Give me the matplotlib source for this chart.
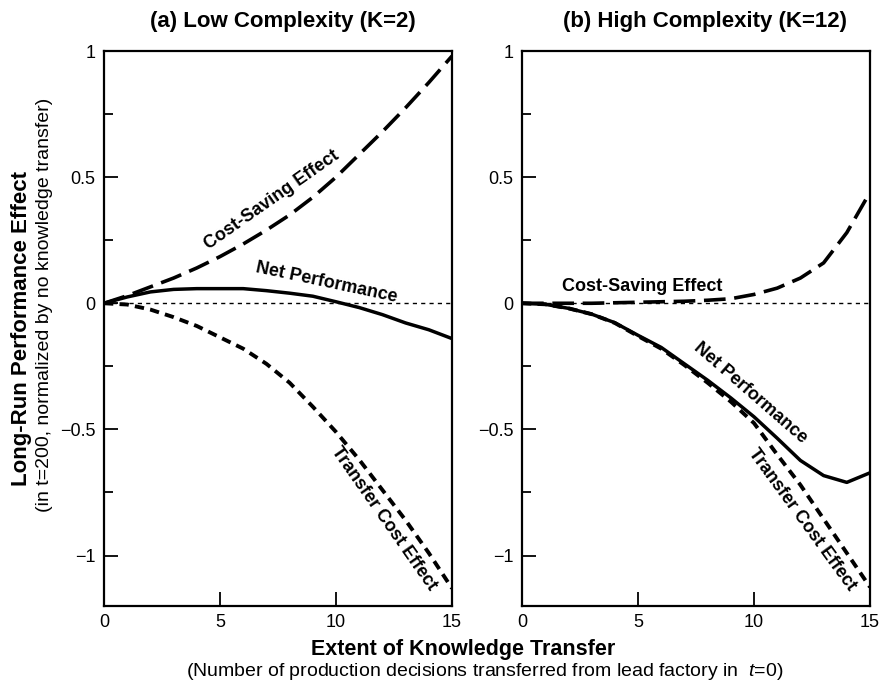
import matplotlib
matplotlib.use("Agg")
import matplotlib.pyplot as plt

plt.rcParams['font.family'] = ['Liberation Sans', 'DejaVu Sans']
plt.rcParams['mathtext.fontset'] = 'custom'
plt.rcParams['mathtext.rm'] = 'Liberation Sans'
plt.rcParams['mathtext.it'] = 'Liberation Sans:italic'

# extent of knowledge transfer (number of decisions)
transfer = list(range(16))

# (a) low complexity, K=2
low_cost_saving = [0, 0.03, 0.065, 0.10, 0.14, 0.185, 0.235, 0.29, 0.35, 0.42, 0.50,
                   0.59, 0.68, 0.775, 0.875, 0.98]
low_net = [0, 0.025, 0.045, 0.055, 0.058, 0.058, 0.058, 0.05, 0.04, 0.028, 0.006,
           -0.017, -0.045, -0.078, -0.105, -0.14]
low_transfer_cost = [0, -0.005, -0.025, -0.055, -0.09, -0.135, -0.18, -0.24, -0.315,
                     -0.41, -0.51, -0.62, -0.74, -0.86, -0.99, -1.13]

# (b) high complexity, K=12
high_cost_saving = [0, 0, 0, 0, 0.002, 0.004, 0.006, 0.008, 0.012, 0.018, 0.035,
                    0.06, 0.10, 0.16, 0.28, 0.44]
high_net = [0, -0.004, -0.02, -0.043, -0.077, -0.127, -0.175, -0.24, -0.305, -0.375,
            -0.45, -0.535, -0.623, -0.683, -0.71, -0.672]
high_transfer_cost = [0, -0.004, -0.02, -0.043, -0.078, -0.13, -0.18, -0.245, -0.315,
                      -0.39, -0.475, -0.6, -0.72, -0.855, -0.99, -1.125]

W, H = 881, 684
fig = plt.figure(figsize=(W / 100, H / 100), dpi=100)
ax1 = fig.add_axes([104 / W, 1 - 606 / H, 348 / W, 555 / H])
ax2 = fig.add_axes([522 / W, 1 - 606 / H, 348 / W, 555 / H])


def draw_panel(ax, cs, net, tc):
    ax.plot([0, 15], [0, 0], color='black', lw=1.0, linestyle=(0, (3, 3)))
    ax.plot(transfer, cs, color='black', lw=2.6, dashes=(6, 2.4), solid_capstyle='butt')
    ax.plot(transfer, tc, color='black', lw=2.8, dashes=(2.4, 1.6))
    ax.plot(transfer, net, color='black', lw=2.5)
    ax.set_xlim(0, 15)
    ax.set_ylim(-1.2, 1)
    ax.set_xticks([0, 5, 10, 15])
    ax.set_yticks([-1, -0.5, 0, 0.5, 1])
    ax.set_yticklabels(['\u22121', '\u22120.5', '0', '0.5', '1'])
    ax.set_yticks([-0.75, -0.25, 0.25, 0.75], minor=True)
    ax.tick_params(axis='both', which='major', direction='in', length=10, width=1.3,
                   labelsize=13, pad=6)
    ax.tick_params(axis='y', which='minor', direction='in', length=6.5, width=1.3)
    for s in ax.spines.values():
        s.set_linewidth(1.6)


draw_panel(ax1, low_cost_saving, low_net, low_transfer_cost)
draw_panel(ax2, high_cost_saving, high_net, high_transfer_cost)

lab = dict(ha='center', va='center', fontsize=13, fontweight='bold', rotation_mode='anchor')
ax1.text(7.22, 0.41, 'Cost-Saving Effect', rotation=35, **lab)
ax1.text(9.58, 0.083, 'Net Performance', rotation=-12, **lab)
ax1.text(12.08, -0.853, 'Transfer Cost Effect', rotation=-55, **lab)
ax2.text(5.19, 0.067, 'Cost-Saving Effect', rotation=0, **lab)
ax2.text(9.85, -0.355, 'Net Performance', rotation=-41, **lab)
ax2.text(12.05, -0.857, 'Transfer Cost Effect', rotation=-54, **lab)

fig.text(282.5 / W, 1 - 22 / H, '(a) Low Complexity (K=2)', ha='center', va='center',
         fontsize=16, fontweight='bold')
fig.text(705 / W, 1 - 22 / H, '(b) High Complexity (K=12)', ha='center', va='center',
         fontsize=16, fontweight='bold')

fig.text(463 / W, 1 - 650 / H, 'Extent of Knowledge Transfer', ha='center', va='center',
         fontsize=15.5, fontweight='bold')
fig.text(485 / W, 1 - 672 / H,
         '(Number of production decisions transferred from lead factory in  $t$=0)',
         ha='center', va='center', fontsize=14)

fig.text(22 / W, 1 - 328.5 / H, 'Long-Run Performance Effect', rotation=90,
         ha='center', va='center', fontsize=16, fontweight='bold')
fig.text(45 / W, 1 - 305 / H, '(in t=200, normalized by no knowledge transfer)',
         rotation=90, ha='center', va='center', fontsize=14)

fig.savefig('out.png', dpi=100)
